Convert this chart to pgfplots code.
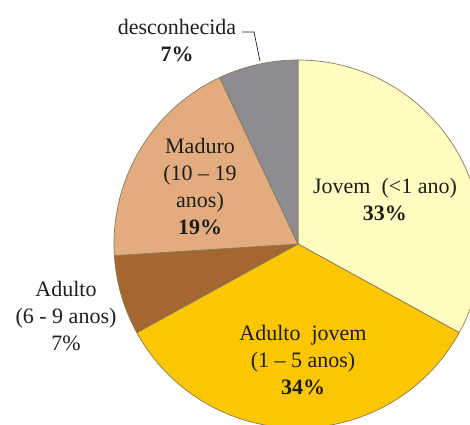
\documentclass[border=0pt]{standalone}
\usepackage{pgfplots}
\usepackage{pgfplotstable}
\pgfplotsset{compat=1.18}
\usepackage{fontspec}
\setmainfont{Liberation Serif}
\newfontfamily\tnr{Liberation Serif}
\definecolor{c0}{HTML}{FFFDC0}
\definecolor{c1}{HTML}{FCC600}
\definecolor{c2}{HTML}{A5662F}
\definecolor{c3}{HTML}{E3AC7E}
\definecolor{c4}{HTML}{8C8C92}
\definecolor{edge}{HTML}{8A7A5A}
\definecolor{txt}{HTML}{1E1E1E}
\pgfplotstableread{
value
33
34
7
19
7
}\piedata
\begin{document}
\begin{tikzpicture}
\useasboundingbox (0,0) rectangle (470bp,425bp);
\xdef\acc{90}
\foreach \i in {0,...,4}{
  \pgfplotstablegetelem{\i}{value}\of\piedata
  \pgfmathsetmacro\e{\acc-3.6*\pgfplotsretval}
  \expandafter\xdef\csname sA\i\endcsname{\acc}
  \expandafter\xdef\csname eA\i\endcsname{\e}
  \xdef\acc{\e}
}
\begin{axis}[at={(0,0)}, anchor=origin, x=1bp, y=1bp,
  xmin=0, xmax=470, ymin=0, ymax=425, hide axis, clip=false]
\pgfplotsinvokeforeach{0,...,4}{
  \fill[fill=c#1, draw=edge, line width=0.7bp, line join=round]
    (axis cs:298,181) -- ++(\csname sA#1\endcsname:184bp)
    arc[start angle=\csname sA#1\endcsname, end angle=\csname eA#1\endcsname, radius=184bp] -- cycle;
}
\draw[txt, line width=0.7bp] (axis cs:242,393) -- (axis cs:254,393) -- (axis cs:260,364);
\begin{scope}[every node/.style={align=center, text=txt, font=\tnr\fontsize{22bp}{27bp}\selectfont, inner sep=0pt}]
\node at (axis cs:177,384) {desconhecida\\\textbf{7\%}};
\node at (axis cs:200,238) {Maduro\\(10 – 19\\anos)\\\textbf{19\%}};
\node at (axis cs:385,225) {Jovem~~(<1 ano)\\\textbf{33\%}};
\node at (axis cs:303,65) {Adulto~~jovem\\(1 – 5 anos)\\\textbf{34\%}};
\node at (axis cs:66,109) {Adulto\\(6 - 9 anos)\\7\%};
\end{scope}
\end{axis}
\end{tikzpicture}
\end{document}
